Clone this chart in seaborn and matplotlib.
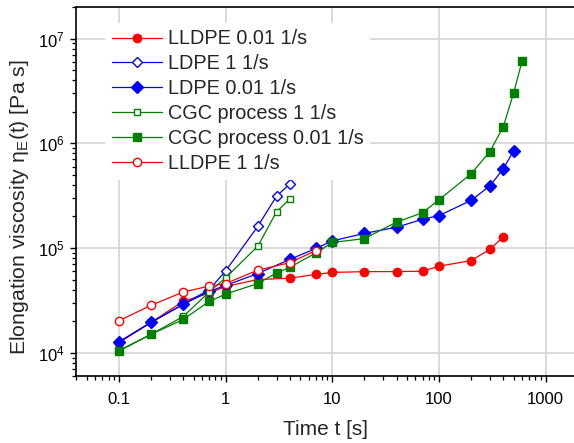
import matplotlib
matplotlib.use("Agg")
import matplotlib.pyplot as plt
import matplotlib.ticker as mticker
import numpy as np
import pandas as pd
import seaborn as sns

# Transient elongational viscosity data, time in s, viscosity in Pa s
t_lldpe_001 = [0.1, 0.2, 0.4, 0.7, 1, 2, 4, 7, 10, 20, 40, 70, 100, 200, 300, 400]
eta_lldpe_001 = [12.5e3, 19.5e3, 31e3, 37e3, 43e3, 50e3, 51.5e3, 56e3, 58.5e3, 59.5e3,
                 59.6e3, 60e3, 67e3, 76e3, 97e3, 128e3]

t_ldpe_1 = [0.1, 0.2, 0.4, 0.7, 1, 2, 3, 4]
eta_ldpe_1 = [12.7e3, 19.5e3, 29e3, 40e3, 60.5e3, 161e3, 313e3, 410e3]

t_ldpe_001 = [0.1, 0.2, 0.4, 0.7, 1, 2, 4, 7, 10, 20, 40, 70, 100, 200, 300, 400, 500]
eta_ldpe_001 = [12.7e3, 19.5e3, 29e3, 38.5e3, 44e3, 57e3, 78e3, 99e3, 117e3, 138e3,
                158e3, 188e3, 204e3, 285e3, 393e3, 570e3, 848e3]

t_cgc_1 = [0.1, 0.2, 0.4, 0.7, 1, 2, 3, 4]
eta_cgc_1 = [10.5e3, 15e3, 22.2e3, 38e3, 52e3, 104e3, 222e3, 295e3]

t_cgc_001 = [0.1, 0.2, 0.4, 0.7, 1, 2, 3, 4, 7, 10, 20, 40, 70, 100, 200, 300, 400, 500, 600]
eta_cgc_001 = [10.4e3, 15e3, 20.8e3, 30.9e3, 36.3e3, 45.8e3, 57.8e3, 65.5e3, 89.6e3, 113e3,
               123e3, 177e3, 217e3, 289e3, 512e3, 834e3, 1.44e6, 3.02e6, 6.1e6]

t_lldpe_1 = [0.1, 0.2, 0.4, 0.7, 1, 2, 4, 7]
eta_lldpe_1 = [20.2e3, 28.4e3, 38e3, 43.3e3, 45.8e3, 61.4e3, 72.6e3, 94.5e3]

series_labels = ["LLDPE 0.01 1/s", "LDPE 1 1/s", "LDPE 0.01 1/s",
                 "CGC process 1 1/s", "CGC process 0.01 1/s", "LLDPE 1 1/s"]
series_t = [t_lldpe_001, t_ldpe_1, t_ldpe_001, t_cgc_1, t_cgc_001, t_lldpe_1]
series_eta = [eta_lldpe_001, eta_ldpe_1, eta_ldpe_001, eta_cgc_1, eta_cgc_001, eta_lldpe_1]

styles = [
    dict(color="#ff0000", marker="o", markersize=6.0, mfc="#ff0000"),
    dict(color="#0000ff", marker="D", markersize=5.5, mfc="white"),
    dict(color="#0000ff", marker="D", markersize=6.0, mfc="#0000ff"),
    dict(color="#007f00", marker="s", markersize=5.0, mfc="white"),
    dict(color="#007f00", marker="s", markersize=5.5, mfc="#007f00"),
    dict(color="#ff0000", marker="o", markersize=6.0, mfc="white"),
]

sns.set_theme(style="white")
plt.rcParams["font.family"] = ["Liberation Sans", "DejaVu Sans"]
plt.rcParams["mathtext.fontset"] = "custom"
plt.rcParams["mathtext.rm"] = "Liberation Sans"
plt.rcParams["mathtext.it"] = "Liberation Sans:italic"
plt.rcParams["mathtext.default"] = "regular"

fig = plt.figure(figsize=(5.74, 4.43), dpi=100)
ax = fig.add_axes([76.5 / 574, 67 / 443, (574 - 76.5) / 574, 369 / 443])

for lab, tt, ee, st in zip(series_labels, series_t, series_eta, styles):
    df = pd.DataFrame({"t": tt, "eta": ee})
    sns.lineplot(data=df, x="t", y="eta", ax=ax, estimator=None, sort=False,
                 color=st["color"], marker=st["marker"], markersize=st["markersize"],
                 markerfacecolor=st["mfc"], markeredgecolor=st["color"],
                 markeredgewidth=1.0, linewidth=0.9, label=lab)

ax.set_xscale("log")
ax.set_yscale("log")
ax.set_xlim(0.04, 1840)
ax.set_ylim(6000, 2e7)

ax.xaxis.set_major_locator(mticker.FixedLocator([0.1, 1, 10, 100, 1000]))
ax.xaxis.set_major_formatter(mticker.FixedFormatter(["0.1", "1", "10", "100", "1000"]))
ax.xaxis.set_minor_locator(mticker.LogLocator(base=10, subs=np.arange(2, 10), numticks=20))
ax.xaxis.set_minor_formatter(mticker.NullFormatter())
ax.yaxis.set_major_locator(mticker.LogLocator(base=10, numticks=10))
ax.yaxis.set_major_formatter(mticker.LogFormatterMathtext())
ax.yaxis.set_minor_locator(mticker.LogLocator(base=10, subs=np.arange(2, 10), numticks=20))
ax.yaxis.set_minor_formatter(mticker.NullFormatter())

ax.grid(True, which="major", color="#d4d4d4", linewidth=1.2)
ax.set_axisbelow(True)

for side in ["left", "bottom", "top"]:
    ax.spines[side].set_visible(True)
    ax.spines[side].set_color("black")
    ax.spines[side].set_linewidth(1.2)
ax.spines["right"].set_visible(False)

ax.tick_params(axis="x", which="major", pad=7)
ax.tick_params(axis="y", which="major", pad=4)
ax.tick_params(axis="both", which="major", direction="out", length=4.5, width=1.0,
               labelsize=12, colors="black", bottom=True, left=True)
ax.tick_params(axis="both", which="minor", direction="out", length=3.0, width=0.9,
               bottom=True, left=True, colors="black")

ax.set_xlabel("Time t [s]", fontsize=15, labelpad=9.4)
ax.set_ylabel("Elongation viscosity η$_E$(t) [Pa s]", fontsize=15.3)
ax.yaxis.set_label_coords(-0.092, 0.458)

leg = ax.legend(loc="upper left", bbox_to_anchor=((105 - 76.5) / 497.5, (376 - 22.5) / 369),
                fontsize=14.3, frameon=True, facecolor="white", edgecolor="none",
                framealpha=1.0, fancybox=False, borderpad=0.35, labelspacing=0.30,
                handlelength=2.5, handletextpad=0.3, borderaxespad=0.0)

fig.savefig("out.png", dpi=100)
